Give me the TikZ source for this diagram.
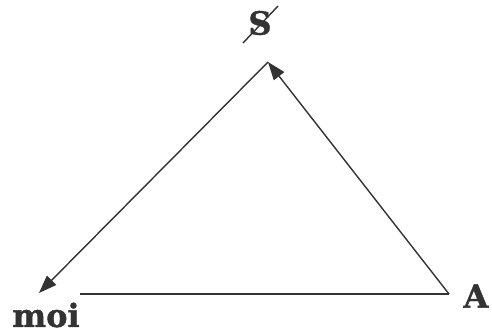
\documentclass[tikz,border=0pt]{standalone}
\usepackage{fontspec}
\setmainfont{DejaVu Serif}
\newfontfamily\heavyfont[FakeBold=1.2]{DejaVu Serif Bold}
\usetikzlibrary{arrows.meta}
\definecolor{ink}{HTML}{333333}
\tikzset{
  side/.style={ink, line width=1.4pt},
  lbl/.style={font=\heavyfont\fontsize{32}{32}\selectfont, text=ink, inner sep=0pt}
}
\begin{document}
\begin{tikzpicture}[x=1pt, y=-1pt, >={Triangle[length=18pt,width=13pt]}]
        \useasboundingbox (0,0) rectangle (492,334);
        % Corners of the triangle
        \coordinate (top) at (268, 62);
        \coordinate (left) at (39, 293);
        \coordinate (base) at (80, 294);
        \coordinate (right) at (449, 294);

        % Labels
        \node[lbl] (S) at (260, 23) {S};
        \node[lbl] (moi) at (46, 315) {moi};
        \node[lbl] (A) at (476, 296) {A};

        % Stroke through the S
        \draw[side] (243, 43) -- (278, 6);

        % Sides
        \draw[side, ->] (right) -- (top);
        \draw[side, ->] (top) -- (left);
        \draw[side] (base) -- (right);
    \end{tikzpicture}
\end{document}
